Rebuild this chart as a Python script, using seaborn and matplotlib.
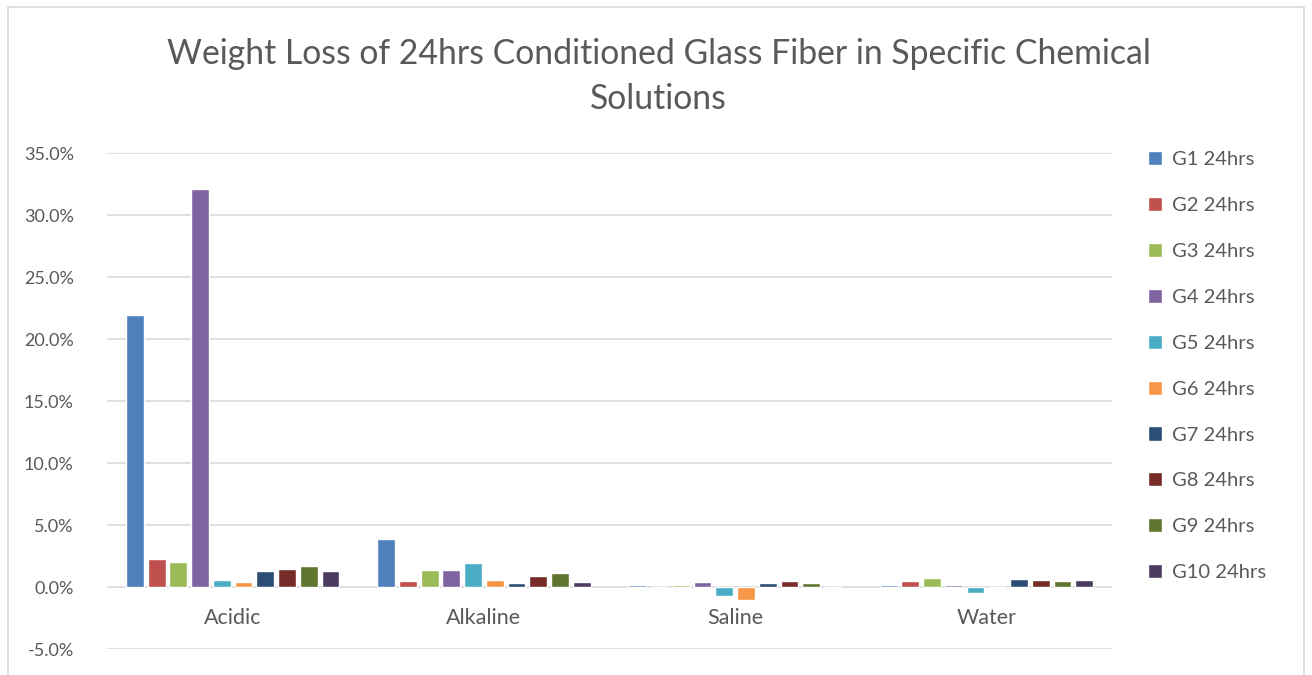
import numpy as np
import pandas as pd
import matplotlib
matplotlib.use("Agg")
import matplotlib.pyplot as plt
import matplotlib.patches as mpatches
from matplotlib.ticker import FuncFormatter
import seaborn as sns

# values in percent
categories = ["Acidic", "Alkaline", "Saline", "Water"]
series = ["G1 24hrs", "G2 24hrs", "G3 24hrs", "G4 24hrs", "G5 24hrs",
          "G6 24hrs", "G7 24hrs", "G8 24hrs", "G9 24hrs", "G10 24hrs"]
acidic   = [21.9, 2.26, 2.0, 32.1, 0.56, 0.40, 1.30, 1.45, 1.70, 1.30]
alkaline = [3.85, 0.46, 1.40, 1.40, 1.92, 0.54, 0.30, 0.86, 1.10, 0.38]
saline   = [0.13, 0.0, 0.20, 0.38, -0.70, -1.05, 0.30, 0.46, 0.30, 0.0]
water    = [0.20, 0.46, 0.70, 0.20, -0.45, 0.0, 0.62, 0.54, 0.46, 0.54]
yticks = [-5, 0, 5, 10, 15, 20, 25, 30, 35]

colors = ["#4F81BD", "#C0504D", "#9BBB59", "#8064A2", "#4BACC6",
          "#F79646", "#2C4D75", "#772C2A", "#5F7530", "#4D3B62"]

rows = []
for cat, vals in zip(categories, [acidic, alkaline, saline, water]):
    for s, v in zip(series, vals):
        rows.append({"solution": cat, "series": s, "loss": v})
df = pd.DataFrame(rows)

sns.set_theme(style="white")
plt.rcParams["font.family"] = ["Lato", "DejaVu Sans"]
txt = "#595959"

fig = plt.figure(figsize=(13.12, 6.75), dpi=100)
fig.patches.append(mpatches.Rectangle((0.006, -0.01), 0.988, 1.0, transform=fig.transFigure,
                                      fill=False, edgecolor="#D9D9D9", linewidth=1.2))
ax = fig.add_axes([0.0816, 0.0385, 0.766, 0.7348])

sns.barplot(data=df, x="solution", y="loss", hue="series", order=categories,
            hue_order=series, palette=colors, width=0.865, gap=0.18,
            saturation=1, errorbar=None, ax=ax)

ax.set_ylim(-5, 35)
ax.set_yticks(yticks)
ax.yaxis.set_major_formatter(FuncFormatter(lambda v, p: f"{v:.1f}%"))
ax.tick_params(axis="y", length=0, labelsize=13, labelcolor=txt, pad=24)
ax.set_xticks([])
ax.set_xlabel("")
ax.set_ylabel("")
ax.grid(axis="y", color="#D9D9D9", linewidth=1.2)
ax.set_axisbelow(True)
for sp in ax.spines.values():
    sp.set_visible(False)
ax.set_xlim(-0.5, 3.5)

for i, cat in enumerate(categories):
    ax.text(i, -2.5, cat, ha="center", va="center", fontsize=15.5, color=txt)

handles, labels = ax.get_legend_handles_labels()
ax.legend_.remove()
fig.legend(handles, labels, loc="upper left", bbox_to_anchor=(0.861, 0.803),
           frameon=False, fontsize=14.5, labelcolor=txt, handlelength=0.7,
           handleheight=0.7, handletextpad=0.5, labelspacing=1.43)

fig.text(0.502, 0.92, "Weight Loss of 24hrs Conditioned Glass Fiber in Specific Chemical",
         ha="center", va="center", fontsize=24.3, color=txt)
fig.text(0.502, 0.853, "Solutions", ha="center", va="center", fontsize=24.3, color=txt)

fig.savefig("out.png", dpi=100)
plt.close(fig)
